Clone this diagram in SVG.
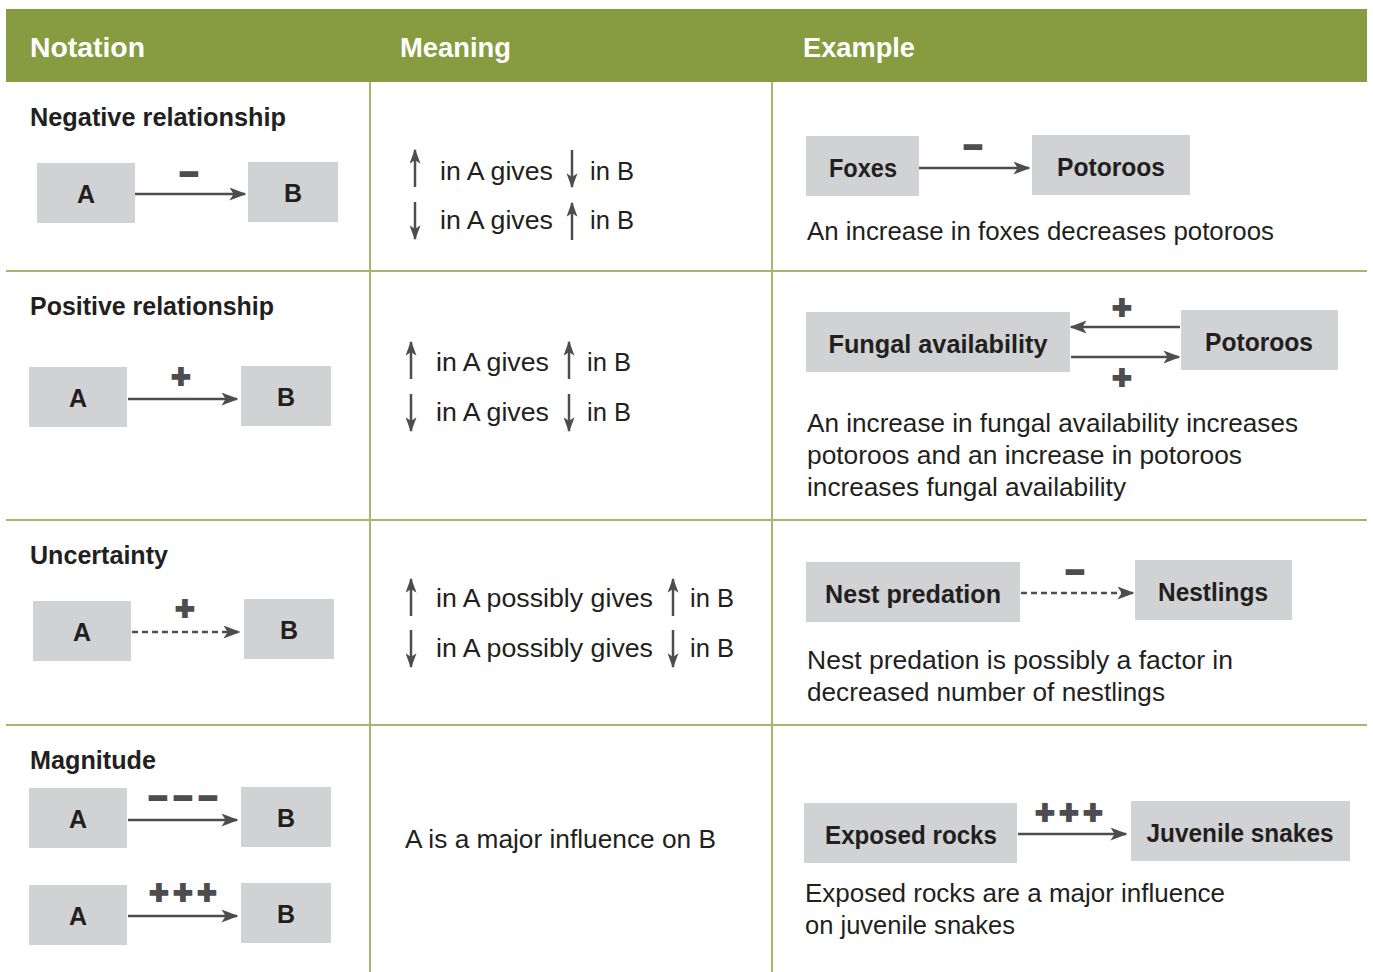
<svg xmlns="http://www.w3.org/2000/svg" width="1373" height="972" viewBox="0 0 1373 972">
<style>
.hd{font-family:"Liberation Sans",Arial,sans-serif;font-weight:bold;font-size:27px;fill:#ffffff}
.tt{font-family:"Liberation Sans",Arial,sans-serif;font-weight:bold;font-size:25px;fill:#231f20}
.bx{fill:#d1d2d4}
.bl{font-family:"Liberation Sans",Arial,sans-serif;font-weight:bold;font-size:25px;fill:#231f20;text-anchor:middle}
.tx{font-family:"Liberation Sans",Arial,sans-serif;font-size:25px;fill:#231f20}
.sg{font-family:"Liberation Sans",Arial,sans-serif;font-weight:bold;font-size:33px;fill:#4d4d4f;stroke:#4d4d4f;stroke-width:2;text-anchor:middle}
.ln{stroke:#a9b56f;stroke-width:2;fill:none}
.ar{stroke:#4d4d4f;stroke-width:2.5;fill:none;marker-end:url(#ah)}
.da{stroke:#4d4d4f;stroke-width:2.5;fill:none;stroke-dasharray:6 4;marker-end:url(#ah)}
.va{stroke:#4d4d4f;stroke-width:2.5;fill:none;marker-end:url(#vh)}
</style>
<defs>
<marker id="ah" viewBox="0 0 12 10" refX="11" refY="5" markerWidth="17" markerHeight="13" orient="auto" markerUnits="userSpaceOnUse" preserveAspectRatio="none"><path d="M0,0 L12,5 L0,10 L3,5 z" fill="#4d4d4f"/></marker>
<marker id="vh" viewBox="0 0 12 10" refX="11" refY="5" markerWidth="15" markerHeight="11" orient="auto" markerUnits="userSpaceOnUse" preserveAspectRatio="none"><path d="M0,0 L12,5 L0,10 L3,5 z" fill="#4d4d4f"/></marker>
</defs>
<rect width="1373" height="972" fill="#ffffff"/>
<g id="table">
<rect x="6" y="9" width="1361" height="73" fill="#879c40"/>
<text class="hd" x="30" y="57" textLength="115" lengthAdjust="spacingAndGlyphs">Notation</text>
<text class="hd" x="400" y="57" textLength="111" lengthAdjust="spacingAndGlyphs">Meaning</text>
<text class="hd" x="803" y="57" textLength="112" lengthAdjust="spacingAndGlyphs">Example</text>
<line class="ln" x1="370" y1="82" x2="370" y2="972"/>
<line class="ln" x1="772" y1="82" x2="772" y2="972"/>
<line class="ln" x1="6" y1="271" x2="1367" y2="271"/>
<line class="ln" x1="6" y1="520" x2="1367" y2="520"/>
<line class="ln" x1="6" y1="725" x2="1367" y2="725"/>
<text class="tt" x="30" y="126" textLength="256" lengthAdjust="spacingAndGlyphs">Negative relationship</text>
<text class="tt" x="30" y="315" textLength="244" lengthAdjust="spacingAndGlyphs">Positive relationship</text>
<text class="tt" x="30" y="564" textLength="138" lengthAdjust="spacingAndGlyphs">Uncertainty</text>
<text class="tt" x="30" y="769" textLength="126" lengthAdjust="spacingAndGlyphs">Magnitude</text>
</g>
<g id="n1a"><rect class="bx" x="37" y="163" width="98" height="60"/><text class="bl" x="86" y="203">A</text></g>
<g id="n1b"><rect class="bx" x="248" y="162" width="90" height="60"/><text class="bl" x="293" y="202">B</text></g>
<g id="n2a"><rect class="bx" x="29" y="367" width="98" height="60"/><text class="bl" x="78" y="407">A</text></g>
<g id="n2b"><rect class="bx" x="241" y="366" width="90" height="60"/><text class="bl" x="286" y="406">B</text></g>
<g id="n3a"><rect class="bx" x="33" y="601" width="98" height="60"/><text class="bl" x="82" y="641">A</text></g>
<g id="n3b"><rect class="bx" x="244" y="599" width="90" height="60"/><text class="bl" x="289" y="639">B</text></g>
<g id="n4a"><rect class="bx" x="29" y="788" width="98" height="60"/><text class="bl" x="78" y="828">A</text></g>
<g id="n4b"><rect class="bx" x="241" y="787" width="90" height="60"/><text class="bl" x="286" y="827">B</text></g>
<g id="n5a"><rect class="bx" x="29" y="885" width="98" height="60"/><text class="bl" x="78" y="925">A</text></g>
<g id="n5b"><rect class="bx" x="241" y="883" width="90" height="60"/><text class="bl" x="286" y="923">B</text></g>
<g id="e1a"><rect class="bx" x="806" y="136" width="113" height="60"/><text class="bl" x="863" y="177" textLength="68" lengthAdjust="spacingAndGlyphs">Foxes</text></g>
<g id="e1b"><rect class="bx" x="1032" y="135" width="158" height="60"/><text class="bl" x="1111" y="176" textLength="108" lengthAdjust="spacingAndGlyphs">Potoroos</text></g>
<g id="e2a"><rect class="bx" x="806" y="312" width="264" height="60"/><text class="bl" x="938" y="353" textLength="219" lengthAdjust="spacingAndGlyphs">Fungal availability</text></g>
<g id="e2b"><rect class="bx" x="1181" y="310" width="157" height="60"/><text class="bl" x="1259" y="351" textLength="108" lengthAdjust="spacingAndGlyphs">Potoroos</text></g>
<g id="e3a"><rect class="bx" x="806" y="562" width="214" height="60"/><text class="bl" x="913" y="603" textLength="176" lengthAdjust="spacingAndGlyphs">Nest predation</text></g>
<g id="e3b"><rect class="bx" x="1135" y="560" width="157" height="60"/><text class="bl" x="1213" y="601" textLength="110" lengthAdjust="spacingAndGlyphs">Nestlings</text></g>
<g id="e4a"><rect class="bx" x="804" y="803" width="213" height="60"/><text class="bl" x="911" y="844" textLength="172" lengthAdjust="spacingAndGlyphs">Exposed rocks</text></g>
<g id="e4b"><rect class="bx" x="1131" y="801" width="219" height="60"/><text class="bl" x="1240" y="842" textLength="187" lengthAdjust="spacingAndGlyphs">Juvenile snakes</text></g>
<g id="connectors">
<line class="ar" x1="135" y1="194" x2="245" y2="194"/>
<line class="ar" x1="128" y1="399" x2="237" y2="399"/>
<line class="da" x1="132" y1="632" x2="239" y2="632"/>
<line class="ar" x1="128" y1="820" x2="237" y2="820"/>
<line class="ar" x1="128" y1="916" x2="237" y2="916"/>
<line class="ar" x1="919" y1="168" x2="1029" y2="168"/>
<line class="ar" x1="1180" y1="327" x2="1071" y2="327"/>
<line class="ar" x1="1071" y1="357" x2="1179" y2="357"/>
<line class="da" x1="1021" y1="593" x2="1133" y2="593"/>
<line class="ar" x1="1018" y1="834" x2="1126" y2="834"/>
<text class="sg" x="189" y="185">−</text>
<text class="sg" x="181" y="388">+</text>
<text class="sg" x="185" y="620">+</text>
<text class="sg" x="158" y="809">−</text><text class="sg" x="183" y="809">−</text><text class="sg" x="208" y="809">−</text>
<text class="sg" x="159" y="904">+</text><text class="sg" x="183" y="904">+</text><text class="sg" x="207" y="904">+</text>
<text class="sg" x="973" y="158">−</text>
<text class="sg" x="1122" y="319">+</text>
<text class="sg" x="1122" y="389">+</text>
<text class="sg" x="1075" y="583">−</text>
<text class="sg" x="1045" y="824">+</text><text class="sg" x="1069" y="824">+</text><text class="sg" x="1093" y="824">+</text>
</g>
<g id="meaning">
<line class="va" x1="415" y1="187" x2="415" y2="150"/>
<text class="tx" x="440" y="180" textLength="113" lengthAdjust="spacingAndGlyphs">in A gives</text>
<line class="va" x1="572" y1="150" x2="572" y2="187"/>
<text class="tx" x="590" y="180" textLength="44" lengthAdjust="spacingAndGlyphs">in B</text>
<line class="va" x1="415" y1="202" x2="415" y2="239"/>
<text class="tx" x="440" y="229" textLength="113" lengthAdjust="spacingAndGlyphs">in A gives</text>
<line class="va" x1="572" y1="240" x2="572" y2="203"/>
<text class="tx" x="590" y="229" textLength="44" lengthAdjust="spacingAndGlyphs">in B</text>

<line class="va" x1="411" y1="379" x2="411" y2="342"/>
<text class="tx" x="436" y="371" textLength="113" lengthAdjust="spacingAndGlyphs">in A gives</text>
<line class="va" x1="569" y1="379" x2="569" y2="342"/>
<text class="tx" x="587" y="371" textLength="44" lengthAdjust="spacingAndGlyphs">in B</text>
<line class="va" x1="411" y1="394" x2="411" y2="431"/>
<text class="tx" x="436" y="421" textLength="113" lengthAdjust="spacingAndGlyphs">in A gives</text>
<line class="va" x1="569" y1="394" x2="569" y2="431"/>
<text class="tx" x="587" y="421" textLength="44" lengthAdjust="spacingAndGlyphs">in B</text>

<line class="va" x1="411" y1="616" x2="411" y2="579"/>
<text class="tx" x="436" y="607" textLength="217" lengthAdjust="spacingAndGlyphs">in A possibly gives</text>
<line class="va" x1="673" y1="616" x2="673" y2="579"/>
<text class="tx" x="690" y="607" textLength="44" lengthAdjust="spacingAndGlyphs">in B</text>
<line class="va" x1="411" y1="630" x2="411" y2="667"/>
<text class="tx" x="436" y="657" textLength="217" lengthAdjust="spacingAndGlyphs">in A possibly gives</text>
<line class="va" x1="673" y1="630" x2="673" y2="667"/>
<text class="tx" x="690" y="657" textLength="44" lengthAdjust="spacingAndGlyphs">in B</text>

<text class="tx" x="405" y="848" textLength="311" lengthAdjust="spacingAndGlyphs">A is a major influence on B</text>
</g>
<g id="examples">
<text class="tx" x="807" y="240" textLength="467" lengthAdjust="spacingAndGlyphs">An increase in foxes decreases potoroos</text>
<text class="tx" x="807" y="432" textLength="491" lengthAdjust="spacingAndGlyphs">An increase in fungal availability increases</text>
<text class="tx" x="807" y="464" textLength="435" lengthAdjust="spacingAndGlyphs">potoroos and an increase in potoroos</text>
<text class="tx" x="807" y="496" textLength="319" lengthAdjust="spacingAndGlyphs">increases fungal availability</text>
<text class="tx" x="807" y="669" textLength="426" lengthAdjust="spacingAndGlyphs">Nest predation is possibly a factor in</text>
<text class="tx" x="807" y="701" textLength="358" lengthAdjust="spacingAndGlyphs">decreased number of nestlings</text>
<text class="tx" x="805" y="902" textLength="420" lengthAdjust="spacingAndGlyphs">Exposed rocks are a major influence</text>
<text class="tx" x="805" y="934" textLength="210" lengthAdjust="spacingAndGlyphs">on juvenile snakes</text>
</g>
</svg>
